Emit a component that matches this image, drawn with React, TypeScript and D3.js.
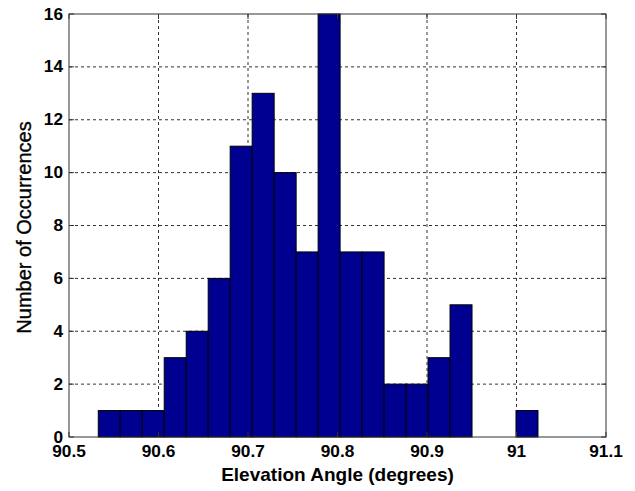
import React from "react";
import * as d3 from "d3";

const binStart = 90.5327;
const binEnd = 91.024;
const counts = [1, 1, 1, 3, 4, 6, 11, 13, 10, 7, 16, 7, 7, 2, 2, 3, 5, 0, 0, 1];
const xTicks = [90.5, 90.6, 90.7, 90.8, 90.9, 91, 91.1];
const yTicks = [0, 2, 4, 6, 8, 10, 12, 14, 16];
const xLabel = "Elevation Angle (degrees)";
const yLabel = "Number of Occurrences";

export default function App() {
  const W = 635, H = 491;
  const L = 69, R = 606, T = 14, B = 437;
  const x = d3.scaleLinear().domain([90.5, 91.1]).range([L, R]);
  const y = d3.scaleLinear().domain([0, 16]).range([B, T]);
  const bw = (binEnd - binStart) / counts.length;
  const font = "Liberation Sans, Arial, Helvetica, sans-serif";
  return (
    <svg width={W} height={H} style={{ position: "absolute", left: 0, top: 0, background: "#fff" }}>
      <rect x={0} y={0} width={W} height={H} fill="#fff" />
      {xTicks.slice(1, -1).map((t) => (
        <line key={"gx" + t} x1={x(t)} x2={x(t)} y1={T} y2={B} stroke="#333" strokeWidth={1} strokeDasharray="3,3" />
      ))}
      {yTicks.slice(1, -1).map((t) => (
        <line key={"gy" + t} x1={L} x2={R} y1={y(t)} y2={y(t)} stroke="#333" strokeWidth={1} strokeDasharray="3,3" />
      ))}
      {counts.map((c, i) =>
        c > 0 ? (
          <rect
            key={"b" + i}
            x={x(binStart + i * bw)}
            y={y(c)}
            width={x(binStart + (i + 1) * bw) - x(binStart + i * bw)}
            height={y(0) - y(c)}
            fill="#000090"
            stroke="#000"
            strokeWidth={1}
          />
        ) : null
      )}
      <rect x={L} y={T} width={R - L} height={B - T} fill="none" stroke="#333" strokeWidth={1} />
      {xTicks.map((t) => (
        <g key={"tx" + t}>
          <line x1={x(t)} x2={x(t)} y1={B} y2={B - 5} stroke="#333" />
          <line x1={x(t)} x2={x(t)} y1={T} y2={T + 5} stroke="#333" />
          <text
            transform={`translate(${x(t)},456.5) scale(1.08,1)`}
            textAnchor="middle"
            fontFamily={font}
            fontWeight="bold"
            fontSize={16}
            fill="#000"
          >
            {String(t)}
          </text>
        </g>
      ))}
      {yTicks.map((t) => (
        <g key={"ty" + t}>
          <line x1={L} x2={L + 5} y1={y(t)} y2={y(t)} stroke="#333" />
          <line x1={R} x2={R - 5} y1={y(t)} y2={y(t)} stroke="#333" />
          <text
            transform={`translate(63,${y(t) + 5.5}) scale(1.08,1)`}
            textAnchor="end"
            fontFamily={font}
            fontWeight="bold"
            fontSize={16}
            fill="#000"
          >
            {String(t)}
          </text>
        </g>
      ))}
      <text x={(L + R) / 2} y={481} textAnchor="middle" fontFamily={font} fontWeight="bold" fontSize={19} fill="#000">
        {xLabel}
      </text>
      <text
        transform={`translate(31,227.5) rotate(-90)`}
        textAnchor="middle"
        fontFamily={font}
        fontSize={20}
        fill="#000"
        stroke="#000"
        strokeWidth={0.35}
      >
        {yLabel}
      </text>
    </svg>
  );
}
